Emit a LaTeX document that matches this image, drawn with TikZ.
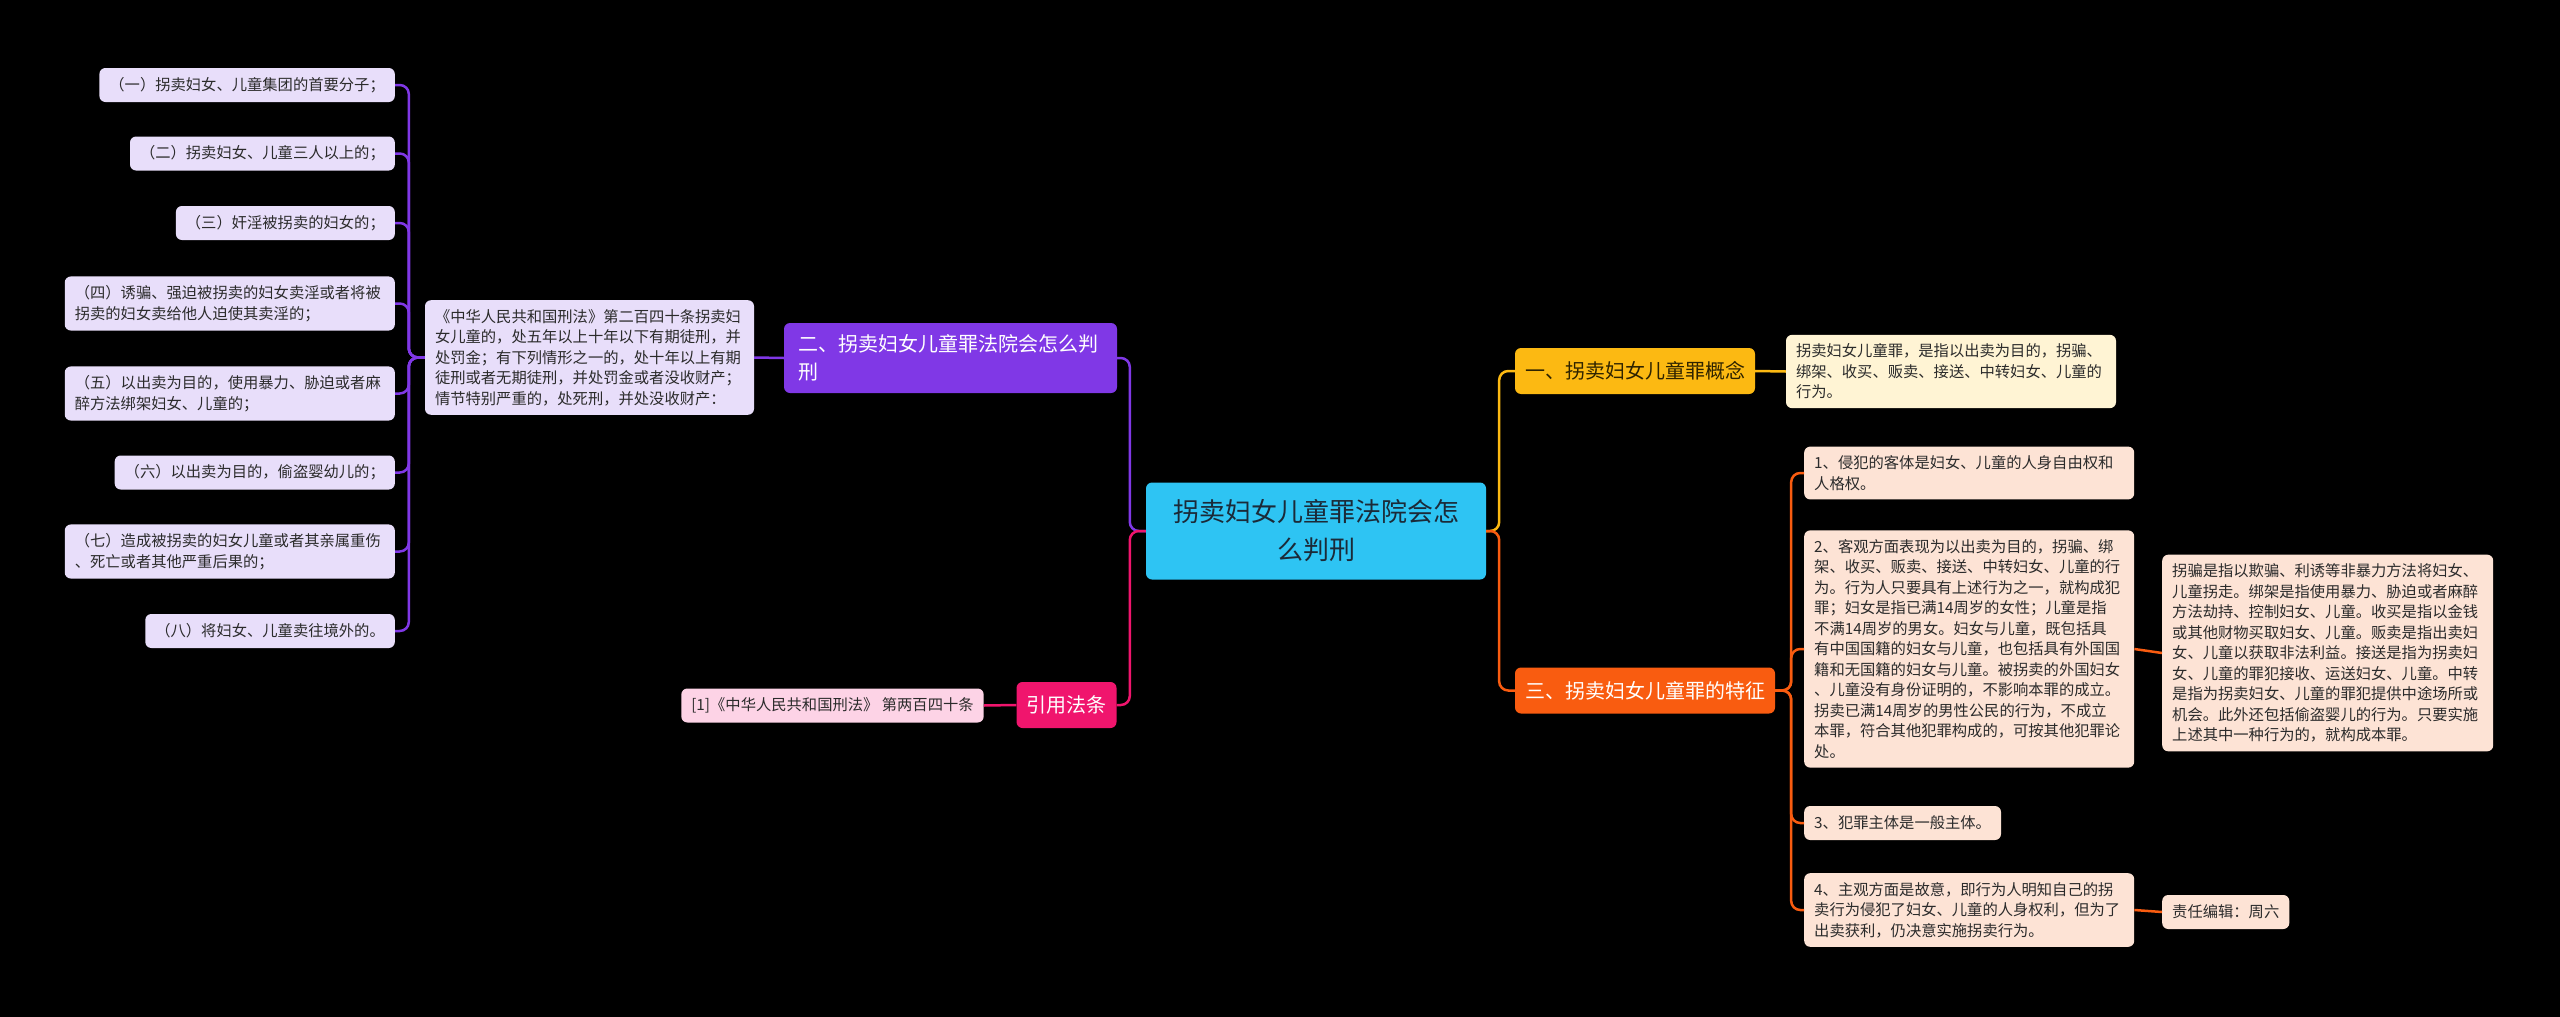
\documentclass[tikz,border=0pt]{standalone}
\usepackage{fontspec}
\setmainfont{Noto Sans CJK SC}
\usepackage{tikz}
\usetikzlibrary{positioning}
\definecolor{bgblack}{HTML}{000000}
\definecolor{rootblue}{HTML}{2EC4F3}
\definecolor{rootink}{HTML}{1B2A38}
\definecolor{grape}{HTML}{8038E6}
\definecolor{lavender}{HTML}{E8DEFA}
\definecolor{berry}{HTML}{F0156D}
\definecolor{blush}{HTML}{FDD3E6}
\definecolor{amber}{HTML}{FCB912}
\definecolor{cream}{HTML}{FFF4D4}
\definecolor{tangerine}{HTML}{F95C10}
\definecolor{peach}{HTML}{FDE3D5}
\definecolor{leafink}{HTML}{2B2B2B}
\definecolor{branchink}{HTML}{2E2300}

\begin{document}
\begin{tikzpicture}[x=1pt,y=-1pt,
            every node/.style={rounded corners=6pt, inner xsep=10pt, inner ysep=9pt},
            rootbox/.style={fill=rootblue, text=rootink, font=\fontsize{26}{38}\selectfont, align=center, minimum width=340pt, minimum height=97pt},
            branch/.style={text=white, font=\fontsize{20}{28}\selectfont, minimum height=46pt},
            leaf/.style={text=leafink, font=\fontsize{15.3}{20.5}\selectfont, align=left, minimum height=34pt},
            link/.style={line width=2.5pt, rounded corners=9pt}]
            \fill[bgblack] (0,0) rectangle (2560,1017);

            \node[rootbox] (root) at (1316,531) {拐卖妇女儿童罪法院会怎\\么判刑};

            \node[branch, fill=grape, text width=305pt, align=left, inner xsep=14pt, minimum height=70pt] (verdict) at (950.5,358) {二、拐卖妇女儿童罪法院会怎么判\\刑};
            \node[leaf, fill=lavender, text width=309pt] (law) at (589.5,357.5) {《中华人民共和国刑法》第二百四十条拐卖妇\\女儿童的，处五年以上十年以下有期徒刑，并\\处罚金；有下列情形之一的，处十年以上有期\\徒刑或者无期徒刑，并处罚金或者没收财产；\\情节特别严重的，处死刑，并处没收财产：};

            \node[leaf, fill=lavender, anchor=east] (c1) at (395,85) {（一）拐卖妇女、儿童集团的首要分子；};
            \node[leaf, fill=lavender, anchor=east] (c2) at (395,153.5) {（二）拐卖妇女、儿童三人以上的；};
            \node[leaf, fill=lavender, anchor=east] (c3) at (395,223) {（三）奸淫被拐卖的妇女的；};
            \node[leaf, fill=lavender, anchor=east, text width=310pt] (c4) at (395,303.5) {（四）诱骗、强迫被拐卖的妇女卖淫或者将被\\拐卖的妇女卖给他人迫使其卖淫的；};
            \node[leaf, fill=lavender, anchor=east, text width=310pt] (c5) at (395,393.5) {（五）以出卖为目的，使用暴力、胁迫或者麻\\醉方法绑架妇女、儿童的；};
            \node[leaf, fill=lavender, anchor=east] (c6) at (395,472.5) {（六）以出卖为目的，偷盗婴幼儿的；};
            \node[leaf, fill=lavender, anchor=east, text width=310pt] (c7) at (395,551.5) {（七）造成被拐卖的妇女儿童或者其亲属重伤\\、死亡或者其他严重后果的；};
            \node[leaf, fill=lavender, anchor=east] (c8) at (395,631) {（八）将妇女、儿童卖往境外的。};

            \node[branch, fill=berry] (cite) at (1066.5,705) {引用法条};
            \node[leaf, fill=blush] (source) at (832.5,705.5) {[1]《中华人民共和国刑法》 第两百四十条};

            \node[branch, fill=amber, text=branchink] (concept) at (1635,371) {一、拐卖妇女儿童罪概念};
            \node[leaf, fill=cream, text width=310pt] (definition) at (1951,371.5) {拐卖妇女儿童罪，是指以出卖为目的，拐骗、\\绑架、收买、贩卖、接送、中转妇女、儿童的\\行为。};

            \node[branch, fill=tangerine] (traits) at (1645,690.5) {三、拐卖妇女儿童罪的特征};
            \node[leaf, fill=peach, anchor=west, text width=310pt] (t1) at (1804,473) {1、侵犯的客体是妇女、儿童的人身自由权和\\人格权。};
            \node[leaf, fill=peach, anchor=west, text width=310pt] (t2) at (1804,649) {2、客观方面表现为以出卖为目的，拐骗、绑\\架、收买、贩卖、接送、中转妇女、儿童的行\\为。行为人只要具有上述行为之一，就构成犯\\罪；妇女是指已满14周岁的女性；儿童是指\\不满14周岁的男女。妇女与儿童，既包括具\\有中国国籍的妇女与儿童，也包括具有外国国\\籍和无国籍的妇女与儿童。被拐卖的外国妇女\\、儿童没有身份证明的，不影响本罪的成立。\\拐卖已满14周岁的男性公民的行为，不成立\\本罪，符合其他犯罪构成的，可按其他犯罪论\\处。};
            \node[leaf, fill=peach, anchor=west] (t3) at (1804,823) {3、犯罪主体是一般主体。};
            \node[leaf, fill=peach, anchor=west, text width=310pt] (t4) at (1804,910) {4、主观方面是故意，即行为人明知自己的拐\\卖行为侵犯了妇女、儿童的人身权利，但为了\\出卖获利，仍决意实施拐卖行为。};
            \node[leaf, fill=peach, anchor=west, text width=311pt] (means) at (2162,653) {拐骗是指以欺骗、利诱等非暴力方法将妇女、\\儿童拐走。绑架是指使用暴力、胁迫或者麻醉\\方法劫持、控制妇女、儿童。收买是指以金钱\\或其他财物买取妇女、儿童。贩卖是指出卖妇\\女、儿童以获取非法利益。接送是指为拐卖妇\\女、儿童的罪犯接收、运送妇女、儿童。中转\\是指为拐卖妇女、儿童的罪犯提供中途场所或\\机会。此外还包括偷盗婴儿的行为。只要实施\\上述其中一种行为的，就构成本罪。};
            \node[leaf, fill=peach, anchor=west] (editor) at (2162,912) {责任编辑：周六};

            % Define the edges
            \draw[link, grape] (root.west) -- ++(-16,0) |- (verdict.east);
            \draw[link, berry] (root.west) -- ++(-16,0) |- (cite.east);
            \draw[link, grape] (verdict.west) -- (law.east);
            \foreach \i in {1,...,8}
                \draw[link, grape] (law.west) -- ++(-16,0) |- (c\i.east);
            \draw[link, berry] (cite.west) -- (source.east);

            \draw[link, amber] (root.east) -- ++(13,0) |- (concept.west);
            \draw[link, tangerine] (root.east) -- ++(13,0) |- (traits.west);
            \draw[link, amber] (concept.east) -- (definition.west);
            \foreach \i in {1,...,4}
                \draw[link, tangerine] (traits.east) -- ++(16,0) |- (t\i.west);
            \draw[link, tangerine] (t2.east) -- (means.west);
            \draw[link, tangerine] (t4.east) -- (editor.west);
      \end{tikzpicture}
\end{document}
